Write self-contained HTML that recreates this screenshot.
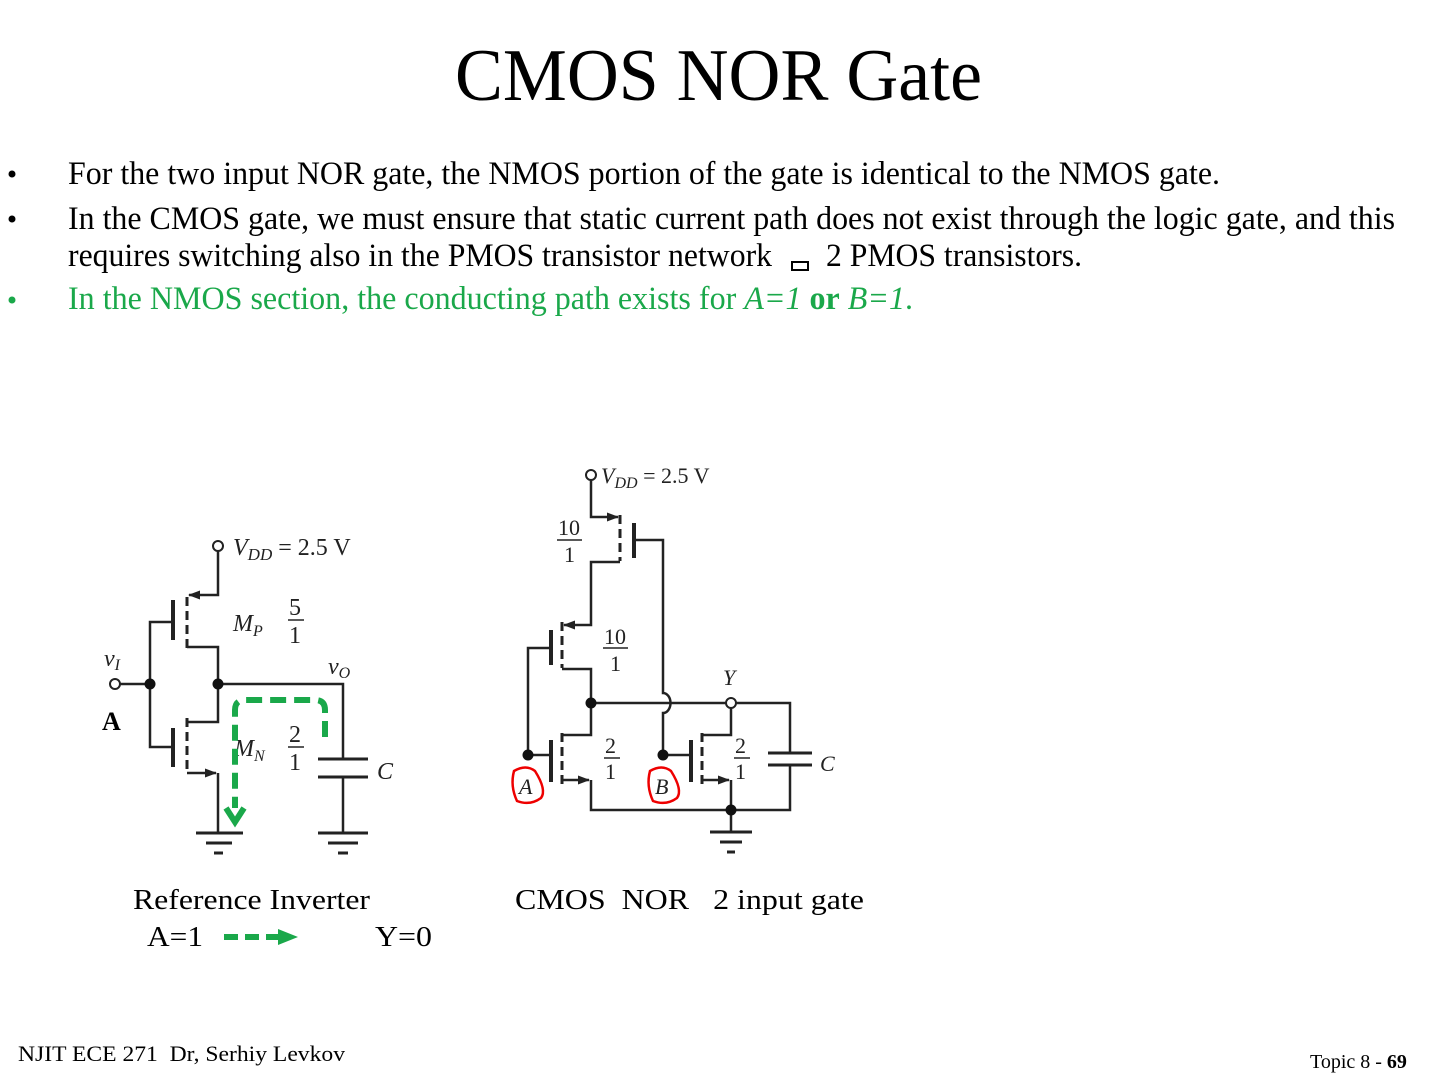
<!DOCTYPE html>
<html><head><meta charset="utf-8"><style>
html,body{margin:0;padding:0;background:#fff;width:1440px;height:1080px;overflow:hidden}
svg{display:block}
text{font-family:"Liberation Serif",serif}
</style></head><body>
<svg width="1440" height="1080" viewBox="0 0 1440 1080" xmlns="http://www.w3.org/2000/svg">
<defs>
<marker id="ar" markerWidth="12" markerHeight="9" refX="11" refY="4.5" orient="auto" markerUnits="userSpaceOnUse"><path d="M0,0 L12,4.5 L0,9 z" fill="#222"/></marker>
</defs>
<text x="455" y="100" font-size="74" textLength="527" lengthAdjust="spacingAndGlyphs">CMOS NOR Gate</text>
<g font-size="33">
<circle cx="12" cy="174" r="3.5" fill="#000"/>
<text x="68" y="184" textLength="1152" lengthAdjust="spacingAndGlyphs">For the two input NOR gate, the NMOS portion of the gate is identical to the NMOS gate.</text>
<circle cx="12" cy="219" r="3.5" fill="#000"/>
<text x="68" y="229" textLength="1327" lengthAdjust="spacingAndGlyphs">In the CMOS gate, we must ensure that static current path does not exist through the logic gate, and this</text>
<text x="68" y="266" textLength="704" lengthAdjust="spacingAndGlyphs">requires switching also in the PMOS transistor network</text>
<rect x="792" y="262" width="16" height="8" fill="none" stroke="#000" stroke-width="2"/>
<text x="826" y="266" textLength="256" lengthAdjust="spacingAndGlyphs">2 PMOS transistors.</text>
<circle cx="12" cy="300" r="3.5" fill="#1aa84a"/>
<text x="68" y="309" fill="#1aa84a" textLength="845" lengthAdjust="spacingAndGlyphs">In the NMOS section, the conducting path exists for <tspan font-style="italic">A=1</tspan> <tspan font-weight="bold">or</tspan> <tspan font-style="italic">B=1</tspan>.</text>
</g>

<!-- Reference inverter -->
<g stroke="#222" stroke-width="2.5" fill="none">
<circle cx="218" cy="546" r="5" stroke-width="2"/>
<path d="M218 551 V595 H189" marker-end="url(#ar)"/>
<path d="M187 597 V648" stroke-dasharray="9,5" stroke-width="3"/>
<path d="M173 600 V640" stroke-width="4"/>
<path d="M173 622 H150 V747 H173"/>
<path d="M187 647 H218 V722 H187"/>
<path d="M120 684 H150"/>
<circle cx="115" cy="684" r="5" stroke-width="2"/>
<path d="M218 684 H343 V759"/>
<path d="M318 759 H368 M318 777 H368" stroke-width="3"/>
<path d="M343 777 V833"/>
<path d="M187 718 V770" stroke-dasharray="9,5" stroke-width="3"/>
<path d="M173 728 V767" stroke-width="4"/>
<path d="M187 773 H216" marker-end="url(#ar)"/>
<path d="M218 773 V833"/>
<path d="M196 833 H243 M206 843 H232 M214 853 H223" stroke-width="3"/>
<path d="M318 833 H368 M328 843 H358 M338 853 H348" stroke-width="3"/>
</g>
<circle cx="150" cy="684" r="5.5" fill="#111"/>
<circle cx="218" cy="684" r="5.5" fill="#111"/>
<g font-size="24" fill="#222">
<text x="233" y="555"><tspan font-style="italic">V</tspan><tspan font-size="17" dy="5" font-style="italic">DD</tspan><tspan dy="-5"> = 2.5 V</tspan></text>
<text x="233" y="631" font-style="italic">M<tspan font-size="16" dy="5">P</tspan></text>
<text x="289" y="615">5</text><line x1="288" y1="620" x2="304" y2="620" stroke="#222" stroke-width="1.5"/><text x="289" y="643">1</text>
<text x="104" y="666" font-style="italic">v<tspan font-size="16" dy="4">I</tspan></text>
<text x="328" y="674" font-style="italic">v<tspan font-size="16" dy="4">O</tspan></text>
<text x="234" y="756" font-style="italic">M<tspan font-size="16" dy="5">N</tspan></text>
<text x="289" y="742">2</text><line x1="288" y1="747" x2="304" y2="747" stroke="#222" stroke-width="1.5"/><text x="289" y="770">1</text>
<text x="377" y="779" font-style="italic">C</text>
</g>
<text x="102" y="730" font-size="26" font-weight="bold">A</text>
<g stroke="#1aa84a" stroke-width="6" fill="none" stroke-dasharray="16,8">
<path d="M325 737 V710 Q325 700 315 700 H245 Q235 700 235 710 V808"/>
</g>
<path d="M226 808 L235 822 L244 808" fill="none" stroke="#1aa84a" stroke-width="6"/>

<!-- CMOS NOR -->
<g stroke="#222" stroke-width="2.5" fill="none">
<circle cx="591" cy="475" r="5" stroke-width="2"/>
<path d="M591 480 V517 H618" marker-end="url(#ar)"/>
<path d="M620 515 V561" stroke-dasharray="9,5" stroke-width="3"/>
<path d="M634 523 V558" stroke-width="4"/>
<path d="M634 540 H663 V693 A6 8 0 0 1 663 713 V755"/>
<path d="M620 562 H591 V625 H564" marker-end="url(#ar)"/>
<path d="M562 622 V668" stroke-dasharray="9,5" stroke-width="3"/>
<path d="M551 630 V665" stroke-width="4"/>
<path d="M551 648 H528 V755 H551"/>
<path d="M562 669 H591 V735 H562"/>
<path d="M591 703 H726 M736 703 H790 V753"/>
<circle cx="731" cy="703" r="5" stroke-width="2"/>
<path d="M768 753 H812 M768 765 H812" stroke-width="3"/>
<path d="M790 765 V810 H591 V780"/>
<path d="M562 733 V785" stroke-dasharray="9,5" stroke-width="3"/>
<path d="M551 740 V782" stroke-width="4"/>
<path d="M562 780 H589" marker-end="url(#ar)"/>
<path d="M663 755 H691"/>
<path d="M691 740 V782" stroke-width="4"/>
<path d="M702 733 V785" stroke-dasharray="9,5" stroke-width="3"/>
<path d="M702 735 H731 V708"/>
<path d="M702 780 H729" marker-end="url(#ar)"/>
<path d="M731 780 V832"/>
<path d="M710 832 H752 M720 842 H742 M727 852 H735" stroke-width="3"/>
</g>
<circle cx="591" cy="703" r="5.5" fill="#111"/>
<circle cx="528" cy="755" r="5.5" fill="#111"/>
<circle cx="663" cy="755" r="5.5" fill="#111"/>
<circle cx="731" cy="810" r="5.5" fill="#111"/>
<g font-size="22" fill="#222">
<text x="601" y="483"><tspan font-style="italic">V</tspan><tspan font-size="16" dy="5" font-style="italic">DD</tspan><tspan dy="-5"> = 2.5 V</tspan></text>
<text x="558" y="535">10</text><line x1="557" y1="540" x2="582" y2="540" stroke="#222" stroke-width="1.5"/><text x="564" y="562">1</text>
<text x="604" y="644">10</text><line x1="603" y1="648" x2="628" y2="648" stroke="#222" stroke-width="1.5"/><text x="610" y="671">1</text>
<text x="723" y="685" font-style="italic">Y</text>
<text x="605" y="753">2</text><line x1="604" y1="758" x2="620" y2="758" stroke="#222" stroke-width="1.5"/><text x="605" y="779">1</text>
<text x="735" y="753">2</text><line x1="734" y1="758" x2="750" y2="758" stroke="#222" stroke-width="1.5"/><text x="735" y="779">1</text>
<text x="820" y="771" font-style="italic">C</text>
<text x="519" y="794" font-style="italic">A</text>
<text x="655" y="794" font-style="italic">B</text>
</g>
<path d="M514 771 Q526 764 535 771 Q547 790 541 798 Q530 806 517 801 Q510 786 514 771 z" fill="none" stroke="#e00" stroke-width="2.5"/>
<path d="M650 771 Q662 764 671 771 Q683 790 677 798 Q666 806 653 801 Q646 786 650 771 z" fill="none" stroke="#e00" stroke-width="2.5"/>

<g font-size="28">
<text x="133" y="909" textLength="237" lengthAdjust="spacingAndGlyphs">Reference Inverter</text>
<text x="515" y="909" textLength="349" lengthAdjust="spacingAndGlyphs" xml:space="preserve">CMOS  NOR   2 input gate</text>
<text x="147" y="946" textLength="56" lengthAdjust="spacingAndGlyphs">A=1</text>
<text x="375" y="946" textLength="57" lengthAdjust="spacingAndGlyphs">Y=0</text>
</g>
<path d="M224 937 H278" stroke="#1aa84a" stroke-width="6" stroke-dasharray="14,7"/>
<path d="M278 929 L298 937 L278 945 z" fill="#1aa84a"/>
<text x="18" y="1061" font-size="22" textLength="327" lengthAdjust="spacingAndGlyphs" xml:space="preserve">NJIT ECE 271  Dr, Serhiy Levkov</text>
<text x="1310" y="1068" font-size="20">Topic 8 - <tspan font-weight="bold">69</tspan></text>
</svg>
</body></html>
